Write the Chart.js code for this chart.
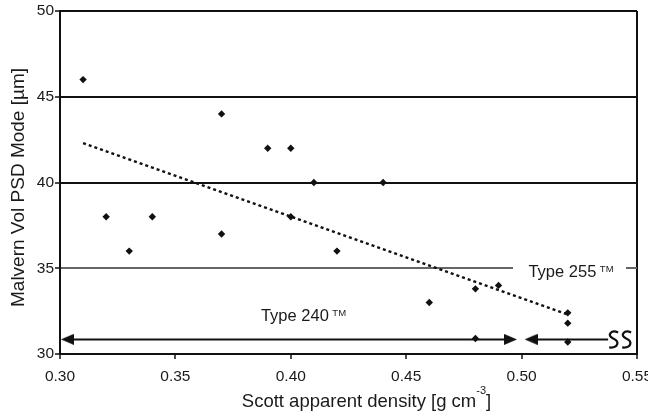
<!DOCTYPE html>
<html>
<head>
<meta charset="utf-8">
<script src="https://cdn.jsdelivr.net/npm/chart.js@4"></script>
<style>
  body { margin: 0; background: #fff; }
  canvas { display: block; }
</style>
</head>
<body>
<canvas id="scott-vs-malvern" width="648" height="416"></canvas>
<script>
// values
const density = [0.31, 0.32, 0.33, 0.34, 0.37, 0.37, 0.39, 0.40, 0.40, 0.41, 0.42, 0.44, 0.46, 0.48, 0.48, 0.49, 0.52, 0.52, 0.52];
const psdMode = [46, 38, 36, 38, 44, 37, 42, 42, 38, 40, 36, 40, 33, 33.8, 30.9, 34, 32.4, 31.8, 30.7];

const trendX = [0.31, 0.52];
const trendY = [42.3, 32.3];

// range arrows along the bottom (Type 240 / Type 255)
const arrowY = 30.85;
const arrow240X = [0.3032, 0.4952];
const arrow255X = [0.5041, 0.5375];
const breakX = 0.5375;

const xTicks = [0.30, 0.35, 0.40, 0.45, 0.50, 0.55];
const yTicks = [30, 35, 40, 45, 50];

const xTitle = 'Scott apparent density [g cm';
const xTitleSup = '-3';
const yTitle = 'Malvern Vol PSD Mode [\u00b5m]';
const label240 = { text: 'Type 240', x: 0.4055, y: 31.9 };
const label255 = { text: 'Type 255', x: 0.5214, y: 34.5 };

const FONT = "'Liberation Sans', Arial, Helvetica, sans-serif";
const INK = '#111';

function arrowHead() {
  const c = document.createElement('canvas');
  c.width = 13;
  c.height = 11;
  const g = c.getContext('2d');
  g.fillStyle = INK;
  g.beginPath();
  g.moveTo(0, 0);
  g.lineTo(13, 5.5);
  g.lineTo(0, 11);
  g.closePath();
  g.fill();
  return c;
}
const head = arrowHead();

function drawTypeLabel(ctx, lbl, cx, baseY) {
  ctx.font = '16.5px ' + FONT;
  const w1 = ctx.measureText(lbl.text).width;
  ctx.font = '9.5px ' + FONT;
  const w2 = ctx.measureText('TM').width;
  const gap = 3.5;
  const left = cx - (w1 + gap + w2) / 2;
  ctx.textAlign = 'left';
  ctx.textBaseline = 'alphabetic';
  ctx.font = '16.5px ' + FONT;
  ctx.fillText(lbl.text, left, baseY);
  ctx.font = '9.5px ' + FONT;
  ctx.fillText('TM', left + w1 + gap, baseY - 5);
}

function sCurve(ctx, x0, yc) {
  ctx.beginPath();
  ctx.moveTo(x0 + 10, yc - 7);
  ctx.bezierCurveTo(x0 + 3, yc - 10, x0 - 2, yc - 4, x0 + 5, yc - 1);
  ctx.bezierCurveTo(x0 + 12, yc + 2, x0 + 10, yc + 9, x0 + 1, yc + 8);
  ctx.stroke();
}

const extras = {
  id: 'extras',
  beforeDatasetsDraw(chart) {
    // break in the 35 line where the Type 255 label sits
    const { ctx, scales: { x, y } } = chart;
    const px = x.getPixelForValue(label255.x);
    const py = y.getPixelForValue(35);
    ctx.save();
    ctx.fillStyle = '#fff';
    ctx.fillRect(px - 58, py - 3, 113, 6);
    ctx.restore();
  },
  afterDatasetsDraw(chart) {
    const { ctx, chartArea, scales: { x, y } } = chart;
    ctx.save();
    ctx.fillStyle = '#1a1a1a';
    drawTypeLabel(ctx, label240, x.getPixelForValue(label240.x), y.getPixelForValue(label240.y));
    drawTypeLabel(ctx, label255, x.getPixelForValue(label255.x), y.getPixelForValue(label255.y));

    // axis break marks at the end of the Type 255 arrow
    ctx.strokeStyle = INK;
    ctx.lineWidth = 2.2;
    const bx = x.getPixelForValue(breakX);
    const by = y.getPixelForValue(arrowY);
    sCurve(ctx, bx, by);
    sCurve(ctx, bx + 13, by);

    // x title with superscript
    ctx.fillStyle = '#1a1a1a';
    ctx.textBaseline = 'alphabetic';
    ctx.textAlign = 'left';
    ctx.font = '18.5px ' + FONT;
    const wa = ctx.measureText(xTitle).width;
    const wc = ctx.measureText(']').width;
    ctx.font = '11px ' + FONT;
    const wb = ctx.measureText(xTitleSup).width;
    const cx = (chartArea.left + chartArea.right) / 2 + 18;
    const left = cx - (wa + wb + wc) / 2;
    const base = chart.height - 9;
    ctx.font = '18.5px ' + FONT;
    ctx.fillText(xTitle, left, base);
    ctx.fillText(']', left + wa + wb, base);
    ctx.font = '11px ' + FONT;
    ctx.fillText(xTitleSup, left + wa, base - 13);

    // y title
    ctx.translate(23.5, (chartArea.top + chartArea.bottom) / 2 + 5);
    ctx.rotate(-Math.PI / 2);
    ctx.textAlign = 'center';
    ctx.font = '19px ' + FONT;
    ctx.fillText(yTitle, 0, 0);
    ctx.restore();
  }
};

const tickFont = { family: FONT, size: 15.5 };

new Chart(document.querySelector('#scott-vs-malvern').getContext('2d'), {
  type: 'scatter',
  data: {
    datasets: [
      {
        label: 'samples',
        data: density.map((d, i) => ({ x: d, y: psdMode[i] })),
        pointStyle: 'rectRot',
        pointRadius: 3.7,
        pointBorderWidth: 0,
        backgroundColor: INK,
        borderColor: INK
      },
      {
        label: 'trend',
        data: trendX.map((d, i) => ({ x: d, y: trendY[i] })),
        showLine: true,
        borderColor: INK,
        borderWidth: 2.5,
        borderDash: [3, 3],
        pointRadius: 0
      },
      {
        label: 'Type 240',
        data: arrow240X.map(d => ({ x: d, y: arrowY })),
        showLine: true,
        borderColor: INK,
        borderWidth: 2,
        pointStyle: head,
        pointRotation: [180, 0],
        pointRadius: 5
      },
      {
        label: 'Type 255',
        data: arrow255X.map(d => ({ x: d, y: arrowY })),
        showLine: true,
        borderColor: INK,
        borderWidth: 2,
        pointStyle: head,
        pointRotation: [180, 0],
        pointRadius: [5, 0]
      }
    ]
  },
  options: {
    responsive: false,
    animation: false,
    devicePixelRatio: 1,
    layout: { padding: { left: 0, right: 11, top: 11, bottom: 0 } },
    plugins: {
      legend: { display: false },
      tooltip: { enabled: false }
    },
    scales: {
      x: {
        type: 'linear',
        min: 0.30,
        max: 0.55,
        afterBuildTicks: s => { s.ticks = xTicks.map(v => ({ value: v })); },
        afterFit: s => { s.height = 62; s.paddingLeft = 0; s.paddingRight = 0; },
        ticks: {
          callback: v => v.toFixed(2),
          font: tickFont,
          color: '#1a1a1a',
          padding: 8,
          maxRotation: 0
        },
        grid: {
          color: c => (c.tick && Math.abs(c.tick.value - 0.55) < 1e-6) ? INK : 'rgba(0,0,0,0)',
          lineWidth: 2,
          tickColor: INK,
          tickLength: 5,
          tickWidth: 1.5
        },
        border: { color: INK, width: 2 }
      },
      y: {
        min: 30,
        max: 50,
        afterBuildTicks: s => { s.ticks = yTicks.map(v => ({ value: v })); },
        afterFit: s => { s.width = 60; s.paddingTop = 0; s.paddingBottom = 0; },
        ticks: {
          font: tickFont,
          color: '#1a1a1a',
          padding: 1
        },
        grid: {
          color: c => (c.tick && c.tick.value === 35) ? '#666' : INK,
          lineWidth: 2,
          tickColor: INK,
          tickLength: 5,
          tickWidth: 1.5
        },
        border: { color: INK, width: 2 }
      }
    }
  },
  plugins: [extras]
});
</script>
</body>
</html>
